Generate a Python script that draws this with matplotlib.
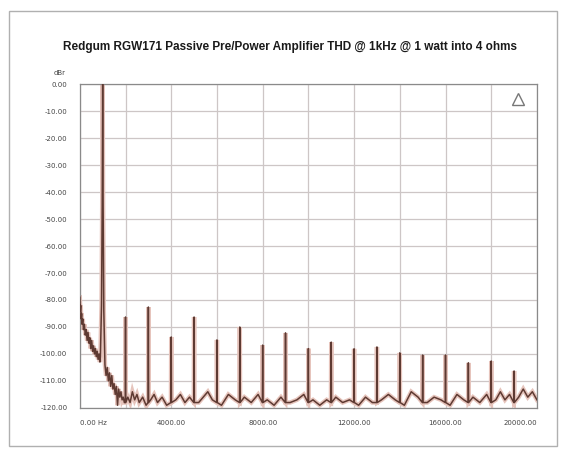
import matplotlib
matplotlib.use("Agg")
import matplotlib.pyplot as plt
import numpy as np
from matplotlib.patches import Rectangle

# THD spectrum, 1 kHz @ 1 W into 4 ohms
title = "Redgum RGW171 Passive Pre/Power Amplifier THD @ 1kHz @ 1 watt into 4 ohms"

# fundamental and its skirt (Hz, dBr)
fund_hz = [900, 950, 980, 1000, 1020, 1050, 1100]
fund_db = [-101, -82, -45, 0.0, -45, -84, -104]

# harmonics 2..19 (kHz, dBr)
harm_khz = [2, 3, 4, 5, 6, 7, 8, 9, 10, 11, 12, 13, 14, 15, 16, 17, 18, 19]
harm_db = [-86.3, -82.6, -93.7, -86.3, -94.8, -90.0, -96.7, -92.2, -98.0,
           -95.6, -98.1, -97.4, -99.6, -100.4, -100.4, -103.3, -102.6, -106.3]
spike_base = -118.0

# noise floor (Hz, dBr)
floor_hz = [0, 20, 40, 60, 80, 100, 130, 160, 200, 240, 280, 320, 360, 400,
            440, 480, 520, 560, 600, 640, 680, 720, 760, 800, 840, 880,
            1150, 1200, 1250, 1300, 1350, 1400, 1450, 1500, 1550, 1600, 1650,
            1700, 1750, 1800, 1850, 1900, 1950, 2100, 2200, 2300, 2400, 2500,
            2600, 2750, 2900, 3100, 3250, 3400, 3600, 3800, 4200, 4400, 4600,
            4800, 5200, 5400, 5600, 5800, 6200, 6500, 6800, 7200, 7500, 7800,
            8200, 8500, 8800, 9200, 9500, 9800, 10200, 10500, 10800, 11200,
            11500, 11800, 12200, 12500, 12800, 13200, 13500, 13800, 14200,
            14500, 14800, 15200, 15500, 15800, 16200, 16500, 16800, 17200,
            17500, 17800, 18200, 18400, 18600, 18800, 19200, 19400, 19600,
            19800, 20000]
floor_db = [-79, -84, -82, -87, -85, -89, -87, -91, -89, -93, -91, -95, -92, -96,
            -94, -98, -95, -99, -97, -100, -98, -101, -99, -102, -100, -103,
            -108, -105, -110, -107, -112, -108, -113, -111, -115, -112, -119,
            -113, -116, -114, -117, -116, -118, -116, -118, -114, -117, -115,
            -118, -116, -119, -117, -115, -118, -116, -119, -117, -115, -118,
            -116, -118, -116, -114, -117, -119, -115, -117, -116, -118, -115,
            -117, -119, -116, -118, -117, -115, -117, -119, -117, -116,
            -118, -117, -119, -116, -118, -117, -115, -117, -119,
            -114, -116, -118, -116, -117, -119, -115, -117, -116,
            -118, -115, -117, -114, -117, -115, -116, -113, -116,
            -114, -117]

y_ticks = [0, -10, -20, -30, -40, -50, -60, -70, -80, -90, -100, -110, -120]
x_ticks = [0, 4000, 8000, 12000, 16000, 20000]
x_labels = ["0.00 Hz", "4000.00", "8000.00", "12000.00", "16000.00", "20000.00"]

# build the trace
pts = list(zip(floor_hz, floor_db)) + list(zip(fund_hz, fund_db))
for k, d in zip(harm_khz, harm_db):
    f = k * 1000
    pts += [(f - 12, spike_base), (f, d), (f + 12, spike_base)]
pts.sort()
fx = np.array([p[0] for p in pts])
fy = np.array([p[1] for p in pts])

fig = plt.figure(figsize=(5.7, 4.62), dpi=100)
fig.patch.set_facecolor("white")
fig.add_artist(Rectangle((0.016, 0.035), 0.962, 0.942, transform=fig.transFigure,
                         fill=False, edgecolor="#b0b0b0", linewidth=1.0))

ax = fig.add_axes([0.140, 0.117, 0.802, 0.701])
ax.plot(fx, fy, color="#e6c4bc", linewidth=3.2, solid_joinstyle="miter", zorder=2)
ax.plot(fx, fy, color="#5e3a32", linewidth=1.1, zorder=3)

ax.set_xlim(0, 20000)
ax.set_ylim(-120, 0)
ax.set_yticks(y_ticks)
ax.set_yticklabels(["%.2f" % v for v in y_ticks])
ax.set_xticks(np.arange(0, 20001, 2000), minor=True)
ax.set_xticks(x_ticks)
ax.set_xticklabels(x_labels)
for lab, ha in zip(ax.get_xticklabels(), ["left", "center", "center", "center", "center", "right"]):
    lab.set_horizontalalignment(ha)

ax.grid(True, which="major", color="#cdc6c6", linewidth=0.9)
ax.grid(True, which="minor", axis="x", color="#cdc6c6", linewidth=0.9)
ax.tick_params(axis="both", which="both", length=0, labelsize=5, labelcolor="#444444")
ax.tick_params(axis="y", pad=9)
ax.tick_params(axis="x", pad=9)
for s in ax.spines.values():
    s.set_color("#8a8a8a")
    s.set_linewidth(0.9)

fig.text(0.105, 0.842, "dBr", fontsize=5, color="#444444", ha="center", va="center")
ax.plot([0.958], [0.955], marker="^", markersize=8, markerfacecolor="none",
        markeredgecolor="#777777", markeredgewidth=1.0, transform=ax.transAxes,
        clip_on=False, zorder=5)

fig.text(0.509, 0.898, title, fontsize=8.5, fontweight="bold", ha="center",
         va="center", family="Liberation Sans", color="#1a1a1a")

fig.savefig("out.png", dpi=100)
